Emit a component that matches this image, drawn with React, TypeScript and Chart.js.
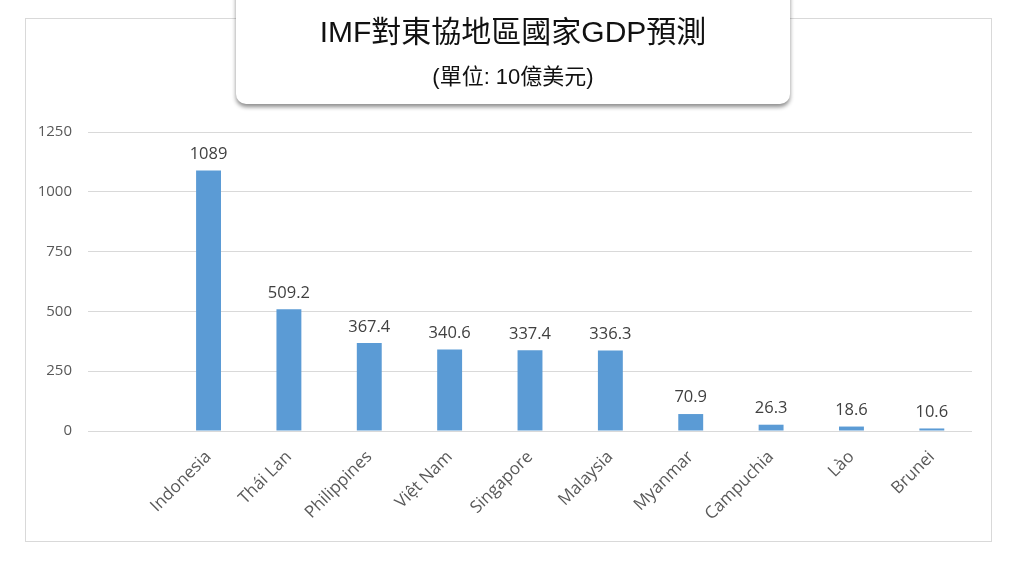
import React, { useEffect, useRef } from "react";
import { Chart, registerables } from "chart.js";

Chart.register(...registerables);

const categories = ["", "Indonesia", "Thái Lan", "Philippines", "Việt Nam", "Singapore", "Malaysia", "Myanmar", "Campuchia", "Lào", "Brunei"];
const gdpValues: (number | null)[] = [null, 1089, 509.2, 367.4, 340.6, 337.4, 336.3, 70.9, 26.3, 18.6, 10.6];
const valueLabels = ["", "1089", "509.2", "367.4", "340.6", "337.4", "336.3", "70.9", "26.3", "18.6", "10.6"];
const yTicks = [0, 250, 500, 750, 1000, 1250];
const titleText = "IMF對東協地區國家GDP預測";
const subtitleText = "(單位: 10億美元)";

const FONT = "'Open Sans', 'Noto Sans', sans-serif";

const valueLabelPlugin = {
  id: "valueLabels",
  afterDatasetsDraw(chart: any) {
    const ctx = chart.ctx;
    const meta = chart.getDatasetMeta(0);
    ctx.save();
    ctx.font = `16.5px ${FONT}`;
    ctx.fillStyle = "#404040";
    ctx.textAlign = "center";
    ctx.textBaseline = "bottom";
    meta.data.forEach((bar: any, i: number) => {
      if (gdpValues[i] == null) return;
      ctx.fillText(valueLabels[i], bar.x, bar.y - 8);
    });
    ctx.restore();
  },
};

export default function App() {
  const ref = useRef<HTMLCanvasElement | null>(null);
  useEffect(() => {
    if (!ref.current) return;
    const chart = new Chart(ref.current, {
      type: "bar",
      data: {
        labels: categories,
        datasets: [
          {
            data: gdpValues,
            backgroundColor: "#5b9bd5",
            barPercentage: 0.62,
            categoryPercentage: 0.5,
          },
        ],
      },
      plugins: [valueLabelPlugin],
      options: {
        animation: false,
        responsive: false,
        maintainAspectRatio: false,
        layout: { padding: { left: 0, right: 52, top: 132, bottom: 30 } },
        plugins: {
          legend: { display: false },
          tooltip: { enabled: false },
          title: { display: false },
        },
        scales: {
          x: {
            grid: { display: false, drawTicks: false },
            border: { display: false },
            ticks: {
              minRotation: 45,
              maxRotation: 45,
              padding: 16,
              color: "#595959",
              font: { family: FONT, size: 17 },
            },
            afterFit(scale: any) {
              scale.height = 106;
            },
          },
          y: {
            min: 0,
            max: 1250,
            afterBuildTicks(scale: any) {
              scale.ticks = yTicks.map((v) => ({ value: v }));
            },
            grid: { color: "#d9d9d9", drawTicks: false, lineWidth: 1 },
            border: { display: false },
            ticks: {
              padding: 16,
              color: "#595959",
              font: { family: FONT, size: 15 },
              callback: (v: any) => String(v),
            },
            afterFit(scale: any) {
              scale.width = 88;
            },
          },
        },
      },
    });
    return () => chart.destroy();
  }, []);

  return (
    <div style={{ position: "fixed", left: 0, top: 0, width: 1024, height: 567, background: "#fff", overflow: "hidden" }}>
      <div
        style={{
          position: "absolute",
          left: 25,
          top: 18,
          width: 967,
          height: 524,
          border: "1px solid #d9d9d9",
          boxSizing: "border-box",
        }}
      />
      <canvas ref={ref} width={1024} height={567} style={{ position: "absolute", left: 0, top: 0 }} />
      <div
        style={{
          position: "absolute",
          left: 236,
          top: -10,
          width: 554,
          height: 114,
          background: "#fff",
          borderRadius: "0 0 10px 10px",
          boxShadow: "0 3px 4px rgba(0,0,0,0.45)",
          textAlign: "center",
          fontFamily: "'Liberation Sans', Arial, 'Noto Sans CJK TC', sans-serif",
          color: "#111",
        }}
      >
        <div style={{ position: "absolute", left: 0, right: 0, top: 23, fontSize: 30, lineHeight: "38px" }}>{titleText}</div>
        <div style={{ position: "absolute", left: 0, right: 0, top: 73, fontSize: 22, lineHeight: "28px" }}>{subtitleText}</div>
      </div>
    </div>
  );
}
